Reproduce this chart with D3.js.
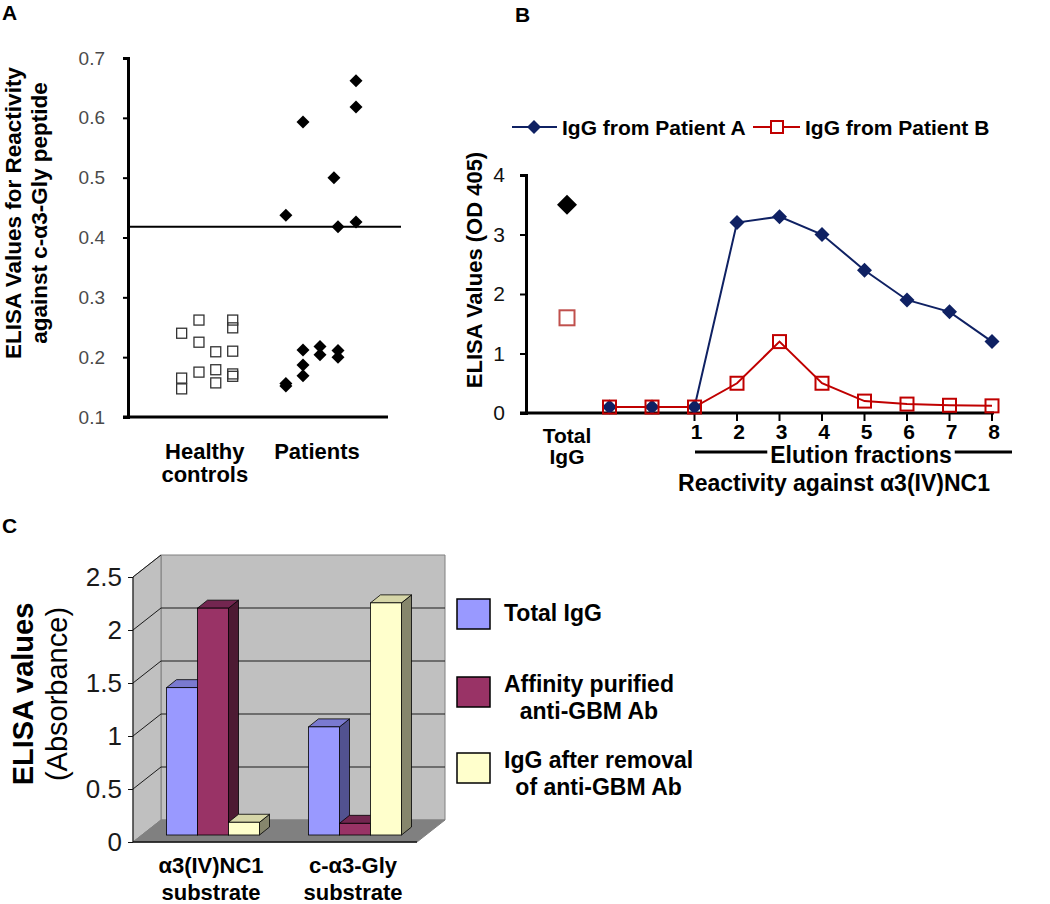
<!DOCTYPE html>
<html><head><meta charset="utf-8">
<script src="https://cdn.jsdelivr.net/npm/d3@7"></script>
<style>
body{margin:0;background:#fff}
svg{display:block}
text{font-family:"Liberation Sans",Arial,sans-serif}
</style>
</head><body>
<svg id="chart" width="1050" height="904"></svg>
<script>
// ---------------- Panel A data ----------------
const aTicks = [0.1, 0.2, 0.3, 0.4, 0.5, 0.6, 0.7];
const aCategories = ["Healthy|controls", "Patients"];
const aCategoryPos = [4.63, 10.98];
const healthyPos = [3.32, 3.32, 3.32, 4.30, 4.30, 4.30, 5.25, 5.25, 5.25, 6.21, 6.21, 6.21, 6.21, 6.21];
const healthyVal = [0.240, 0.165, 0.147, 0.262, 0.225, 0.175, 0.209, 0.179, 0.157, 0.262, 0.249, 0.210, 0.172, 0.168];
const patientPos = [9.22, 9.22, 9.22, 10.19, 10.19, 10.19, 10.19, 11.15, 11.15, 11.94, 12.17, 12.17, 12.17, 13.19, 13.19, 13.19];
const patientVal = [0.437, 0.152, 0.156, 0.593, 0.212, 0.187, 0.169, 0.218, 0.204, 0.500, 0.418, 0.211, 0.200, 0.662, 0.618, 0.426];
const cutoff = 0.418;

// ---------------- Panel B data ----------------
const bCategories = ["Total|IgG", "", "", "1", "2", "3", "4", "5", "6", "7", "8"];
const bTicks = [0, 1, 2, 3, 4];
const bSeriesNames = ["IgG from Patient A", "IgG from Patient B"];
const totalIgGA = 3.5;
const totalIgGB = 1.6;
const patientA = [null, 0.1, 0.1, 0.1, 3.2, 3.3, 3.0, 2.4, 1.9, 1.7, 1.2];
const patientB = [null, 0.1, 0.1, 0.1, 0.5, 1.2, 0.5, 0.2, 0.15, 0.13, 0.12];

// ---------------- Panel C data ----------------
const cCategories = ["α3(IV)NC1|substrate", "c-α3-Gly|substrate"];
const cSeries = ["Total IgG", "Affinity purified|anti-GBM Ab", "IgG after removal|of anti-GBM Ab"];
const cTotalIgG = [1.39, 1.02];
const cAffinity = [2.14, 0.11];
const cAfterRemoval = [0.12, 2.19];
const cTicks = [0, 0.5, 1, 1.5, 2, 2.5];

const svg = d3.select("#chart");
const diamond = r => `M0,${-r}L${r},0L0,${r}L${-r},0Z`;

function multiText(g, str, x, y, lh, attrs) {
  const lines = str.split("|");
  lines.forEach((l, i) => {
    const t = g.append("text").attr("x", x).attr("y", y + i * lh).text(l);
    for (const k in attrs) t.attr(k, attrs[k]);
  });
}

// ================= PANEL A =================
{
  const g = svg.append("g");
  const y = d3.scaleLinear().domain([0.1, 0.7]).range([417, 58]);
  const x = d3.scaleLinear().domain([0, 15]).range([123, 388]);

  g.append("text").attr("x", 2).attr("y", 20).attr("font-size", 21).attr("font-weight", "bold").text("A");

  // y axis
  const ax = g.append("g").attr("transform", "translate(128,0)")
    .call(d3.axisLeft(y).tickValues(aTicks).tickFormat(d3.format(".1f")).tickSize(5).tickPadding(18));
  ax.select(".domain").attr("stroke-width", 3).attr("stroke", "#000");
  ax.selectAll(".tick line").attr("stroke-width", 2);
  ax.selectAll(".tick text").attr("font-size", 19).attr("fill", "#4a4a4a").attr("font-family", "Liberation Sans, Arial, sans-serif");
  // x axis line
  g.append("line").attr("x1", x(0)).attr("x2", x(15)).attr("y1", y(0.1)).attr("y2", y(0.1))
    .attr("stroke", "#000").attr("stroke-width", 3);

  // cutoff line
  g.append("line").attr("x1", 128).attr("x2", 401).attr("y1", y(cutoff)).attr("y2", y(cutoff))
    .attr("stroke", "#000").attr("stroke-width", 2);

  // title
  const tg = g.append("g").attr("transform", "translate(21,213) rotate(-90)");
  tg.append("text").attr("text-anchor", "middle").attr("font-size", 22.5).attr("font-weight", "bold").text("ELISA Values for Reactivity");
  tg.append("text").attr("y", 26).attr("text-anchor", "middle").attr("font-size", 22.5).attr("font-weight", "bold").text("against c-α3-Gly peptide");

  // categories
  aCategories.forEach((c, i) => multiText(g, c, x(aCategoryPos[i]), 459, 23,
    {"text-anchor": "middle", "font-size": 22, "font-weight": "bold"}));

  // healthy squares
  g.selectAll(".hs").data(healthyVal).enter().append("rect")
    .attr("x", (d, i) => x(healthyPos[i]) - 5).attr("y", d => y(d) - 5)
    .attr("width", 10).attr("height", 10)
    .attr("fill", "none").attr("stroke", "#333").attr("stroke-width", 1.3);
  // patient diamonds
  g.selectAll(".pd").data(patientVal).enter().append("path")
    .attr("d", diamond(6.5))
    .attr("transform", (d, i) => `translate(${x(patientPos[i])},${y(d)})`)
    .attr("fill", "#000");
}

// ================= PANEL B =================
{
  const g = svg.append("g");
  const navy = "#0f2163", red = "#c00000";
  const y = d3.scaleLinear().domain([0, 4]).range([413, 175]);
  const x = d3.scalePoint().domain(d3.range(bCategories.length)).range([567, 992]);

  g.append("text").attr("x", 515).attr("y", 22).attr("font-size", 21).attr("font-weight", "bold").text("B");

  const ax = g.append("g").attr("transform", "translate(526,0)")
    .call(d3.axisLeft(y).tickValues(bTicks).tickFormat(d3.format("d")).tickSize(6).tickPadding(15));
  ax.select(".domain").attr("stroke-width", 3).attr("stroke", "#000");
  ax.selectAll(".tick line").attr("stroke-width", 2);
  ax.selectAll(".tick text").attr("font-size", 21).attr("fill", "#111").attr("font-family", "Liberation Sans, Arial, sans-serif");

  g.append("line").attr("x1", 520).attr("x2", 994).attr("y1", y(0)).attr("y2", y(0))
    .attr("stroke", "#000").attr("stroke-width", 3);
  // x ticks at numbered fractions
  bCategories.forEach((c, i) => {
    if (/^\d$/.test(c)) {
      g.append("line").attr("x1", x(i)).attr("x2", x(i)).attr("y1", y(0)).attr("y2", y(0) + 8)
        .attr("stroke", "#000").attr("stroke-width", 2);
      g.append("text").attr("x", x(i) + 2).attr("y", 439).attr("text-anchor", "middle")
        .attr("font-size", 21).attr("font-weight", "bold").text(c);
    } else if (c) {
      multiText(g, c, x(i), 443, 21, {"text-anchor": "middle", "font-size": 21, "font-weight": "bold"});
    }
  });

  // elution fractions bracket line
  g.append("line").attr("x1", 695).attr("x2", 1012).attr("y1", 452).attr("y2", 452)
    .attr("stroke", "#000").attr("stroke-width", 3);
  const et = g.append("text").attr("x", 861).attr("y", 463).attr("text-anchor", "middle")
    .attr("font-size", 23).attr("font-weight", "bold").text("Elution fractions");
  const bb = et.node().getBBox();
  g.insert("rect", () => et.node()).attr("x", bb.x - 3).attr("y", bb.y + 2).attr("width", bb.width + 6).attr("height", bb.height - 4).attr("fill", "#fff");
  g.append("text").attr("x", 834).attr("y", 491).attr("text-anchor", "middle")
    .attr("font-size", 23).attr("font-weight", "bold").text("Reactivity against α3(IV)NC1");

  // y title
  g.append("text").attr("transform", "translate(482,270) rotate(-90)").attr("text-anchor", "middle")
    .attr("font-size", 22).attr("font-weight", "bold").text("ELISA Values (OD 405)");

  // lines
  const line = d3.line().defined(d => d.v != null).x(d => x(d.i)).y(d => y(d.v));
  const dA = patientA.map((v, i) => ({i, v}));
  const dB = patientB.map((v, i) => ({i, v}));
  g.append("path").attr("d", line(dA)).attr("fill", "none").attr("stroke", navy).attr("stroke-width", 2);
  g.append("path").attr("d", line(dB)).attr("fill", "none").attr("stroke", red).attr("stroke-width", 2);
  g.selectAll(".ma").data(dA.filter(d => d.v != null)).enter().append("path")
    .attr("d", diamond(7.5)).attr("transform", d => `translate(${x(d.i)},${y(d.v)})`).attr("fill", navy);
  g.selectAll(".mb").data(dB.filter(d => d.v != null)).enter().append("rect")
    .attr("x", d => x(d.i) - 6.5).attr("y", d => y(d.v) - 6.5).attr("width", 13).attr("height", 13)
    .attr("fill", "none").attr("stroke", red).attr("stroke-width", 2);
  // total IgG points
  g.append("path").attr("d", diamond(10)).attr("transform", `translate(${x(0)},${y(totalIgGA)})`).attr("fill", "#000");
  g.append("rect").attr("x", x(0) - 7.5).attr("y", y(totalIgGB) - 7.5).attr("width", 15).attr("height", 15)
    .attr("fill", "none").attr("stroke", "#c0504d").attr("stroke-width", 2);

  // legend
  const ly = 127;
  g.append("line").attr("x1", 512).attr("x2", 557).attr("y1", ly).attr("y2", ly).attr("stroke", navy).attr("stroke-width", 2);
  g.append("path").attr("d", diamond(7)).attr("transform", `translate(534,${ly})`).attr("fill", navy);
  g.append("text").attr("x", 562).attr("y", ly + 8).attr("font-size", 21).attr("font-weight", "bold").text(bSeriesNames[0]);
  g.append("line").attr("x1", 753).attr("x2", 800).attr("y1", ly).attr("y2", ly).attr("stroke", red).attr("stroke-width", 2);
  g.append("rect").attr("x", 771).attr("y", ly - 6).attr("width", 12).attr("height", 12).attr("fill", "#fff").attr("stroke", red).attr("stroke-width", 2);
  g.append("text").attr("x", 805).attr("y", ly + 8).attr("font-size", 21).attr("font-weight", "bold").text(bSeriesNames[1]);
}

// ================= PANEL C =================
{
  const g = svg.append("g");
  const y = d3.scaleLinear().domain([0, 2.5]).range([842, 577]);
  const x = d3.scaleBand().domain(cCategories).range([133, 417]);
  const DX = 28, DY = -22;          // full depth offset
  const FX = 9, FY = -7;            // bar front offset
  const BX = 10, BY = -8;           // bar depth
  const barW = 31;
  const seriesVals = [cTotalIgG, cAffinity, cAfterRemoval];
  const colors = [
    {front: "#9999ff", side: "#525290", top: "#7a7ad0"},
    {front: "#993366", side: "#4d1a33", top: "#732650"},
    {front: "#ffffcc", side: "#86866c", top: "#d6d6a8"}
  ];
  const x0 = 133, x1 = 417, yTop = y(2.5), yBot = y(0);

  g.append("text").attr("x", 2).attr("y", 533).attr("font-size", 21).attr("font-weight", "bold").text("C");

  // walls
  const poly = pts => "M" + pts.map(p => p.join(",")).join("L") + "Z";
  g.append("path").attr("d", poly([[x0 + DX, yTop + DY], [x1 + DX, yTop + DY], [x1 + DX, yBot + DY], [x0 + DX, yBot + DY]]))
    .attr("fill", "#c0c0c0").attr("stroke", "#808080");
  g.append("path").attr("d", poly([[x0, yTop], [x0 + DX, yTop + DY], [x0 + DX, yBot + DY], [x0, yBot]]))
    .attr("fill", "#c0c0c0").attr("stroke", "#808080");
  g.append("path").attr("d", poly([[x0, yBot], [x0 + DX, yBot + DY], [x1 + DX, yBot + DY], [x1, yBot]]))
    .attr("fill", "#808080").attr("stroke", "#808080");
  // gridlines
  cTicks.filter(v => v > 0 && v < 2.5).forEach(v => {
    g.append("path").attr("d", `M${x0},${y(v)}L${x0 + DX},${y(v) + DY}L${x1 + DX},${y(v) + DY}`)
      .attr("fill", "none").attr("stroke", "#1a1a1a").attr("stroke-width", 1);
  });
  g.append("path").attr("d", `M${x0},${yTop}L${x0 + DX},${yTop + DY}`).attr("stroke", "#1a1a1a").attr("stroke-width", 1);

  // axis
  g.append("line").attr("x1", x0).attr("x2", x0).attr("y1", yTop).attr("y2", yBot).attr("stroke", "#111");
  g.append("line").attr("x1", x0).attr("x2", x1).attr("y1", yBot).attr("y2", yBot).attr("stroke", "#111").attr("stroke-width", 1.5);
  const ax = g.append("g").attr("transform", `translate(${x0},0)`)
    .call(d3.axisLeft(y).tickValues(cTicks).tickFormat(d => String(d)).tickSize(5).tickPadding(6));
  ax.select(".domain").remove();
  ax.selectAll(".tick line").attr("stroke", "#111");
  ax.selectAll(".tick text").attr("font-size", 26).attr("fill", "#1a1a1a").attr("font-family", "Liberation Sans, Arial, sans-serif");

  // bars
  const groupW = barW * seriesVals.length;
  cCategories.forEach((c, ci) => {
    seriesVals.forEach((vals, si) => {
      const bx = x(c) + (x.bandwidth() - groupW) / 2 + si * barW + FX;
      const by = y(vals[ci]) + FY;
      const bb = y(0) + FY;
      const col = colors[si];
      g.append("path").attr("d", poly([[bx + barW, by], [bx + barW + BX, by + BY], [bx + barW + BX, bb + BY], [bx + barW, bb]]))
        .attr("fill", col.side).attr("stroke", "#000").attr("stroke-width", 0.8);
      g.append("path").attr("d", poly([[bx, by], [bx + BX, by + BY], [bx + barW + BX, by + BY], [bx + barW, by]]))
        .attr("fill", col.top).attr("stroke", "#000").attr("stroke-width", 0.8);
      g.append("rect").attr("x", bx).attr("y", by).attr("width", barW).attr("height", bb - by)
        .attr("fill", col.front).attr("stroke", "#000").attr("stroke-width", 0.8);
    });
    multiText(g, c, x(c) + x.bandwidth() / 2 + 7, 873, 27, {"text-anchor": "middle", "font-size": 22, "font-weight": "bold"});
  });

  // y title
  g.append("text").attr("transform", "translate(33,694) rotate(-90)").attr("text-anchor", "middle")
    .attr("font-size", 29).attr("font-weight", "bold").text("ELISA values");
  g.append("text").attr("transform", "translate(67,694) rotate(-90)").attr("text-anchor", "middle")
    .attr("font-size", 29).text("(Absorbance)");

  // legend
  const legY = [599, 677, 753];
  cSeries.forEach((s, i) => {
    g.append("rect").attr("x", 457).attr("y", legY[i]).attr("width", 33).attr("height", 30)
      .attr("fill", colors[i].front).attr("stroke", "#000").attr("stroke-width", 1.5);
    const lines = s.split("|");
    const lg = g.append("g");
    const ts = lines.map((l, k) => lg.append("text").attr("y", legY[i] + 22 + (lines.length > 1 ? -7 : 0) + k * 27)
      .attr("font-size", 23).attr("font-weight", "bold").text(l));
    const maxW = d3.max(ts, t => t.node().getComputedTextLength());
    ts.forEach(t => t.attr("x", 504 + maxW / 2).attr("text-anchor", "middle"));
  });
}
</script>
</body></html>
